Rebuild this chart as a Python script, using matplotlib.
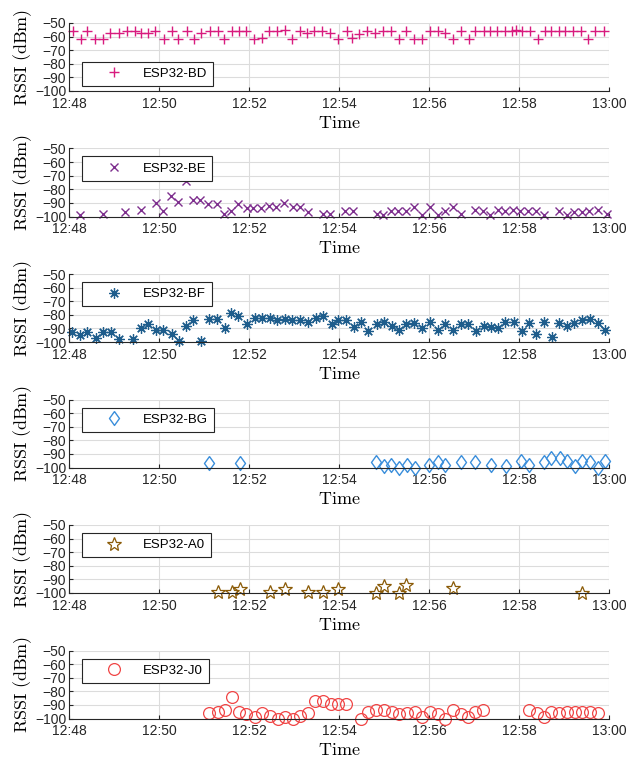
import datetime as dt
import matplotlib
matplotlib.use("Agg")
import matplotlib.pyplot as plt
import matplotlib.dates as mdates

plt.rcParams['font.family'] = ['Liberation Sans', 'DejaVu Sans']
plt.rcParams['mathtext.fontset'] = 'cm'

# -----------------------------
# Data (minutes after 12:48, RSSI in dBm)
# -----------------------------
bd_min = [0.08, 0.27, 0.40, 0.58, 0.75, 0.92, 1.10, 1.28, 1.47, 1.60, 1.75, 1.92, 2.12, 2.28,
          2.43, 2.62, 2.78, 2.93, 3.13, 3.30, 3.45, 3.62, 3.78, 3.93, 4.12, 4.28, 4.45, 4.63,
          4.80, 4.95, 5.13, 5.28, 5.45, 5.62, 5.80, 5.98, 6.17, 6.28, 6.45, 6.63, 6.80, 6.97,
          7.15, 7.33, 7.48, 7.67, 7.85, 8.03, 8.20, 8.35, 8.53, 8.72, 8.90, 9.03, 9.22, 9.35,
          9.52, 9.70, 9.85, 9.93, 10.07, 10.25, 10.42, 10.57, 10.70, 10.88, 11.02, 11.20, 11.38,
          11.53, 11.70, 11.88]
bd_rssi = [-56, -62, -56, -62, -62, -57, -57, -56, -56, -57, -57, -56, -62, -56, -62, -56, -62,
           -57, -56, -56, -62, -56, -56, -56, -62, -61, -56, -56, -55, -62, -56, -57, -56, -56,
           -57, -62, -56, -61, -58, -56, -57, -56, -56, -62, -56, -62, -62, -56, -56, -57, -62,
           -56, -62, -56, -56, -56, -56, -56, -56, -55, -56, -56, -62, -56, -56, -56, -56, -56,
           -56, -62, -56, -56]

be_min = [0.24, 0.75, 1.24, 1.60, 1.93, 2.10, 2.27, 2.43, 2.60, 2.76, 2.91, 3.09, 3.28, 3.45,
          3.60, 3.76, 3.95, 4.09, 4.27, 4.44, 4.61, 4.78, 4.97, 5.13, 5.31, 5.64, 5.80, 6.13,
          6.32, 6.84, 6.98, 7.16, 7.32, 7.48, 7.67, 7.84, 8.02, 8.19, 8.36, 8.54, 8.71, 9.02,
          9.20, 9.36, 9.54, 9.70, 9.87, 10.02, 10.19, 10.38, 10.56, 10.89, 11.06, 11.22, 11.39,
          11.56, 11.76, 11.95]
be_rssi = [-99, -98, -97, -95, -90, -96, -85, -89, -74, -88, -88, -91, -91, -98, -96, -91, -94,
           -94, -94, -92, -93, -90, -93, -93, -97, -98, -98, -96, -96, -98, -99, -96, -96, -96,
           -93, -99, -93, -99, -96, -93, -98, -95, -96, -99, -95, -96, -95, -96, -96, -96, -99,
           -96, -99, -97, -97, -96, -95, -98]

bf_min = [0.06, 0.24, 0.41, 0.59, 0.76, 0.93, 1.10, 1.43, 1.60, 1.76, 1.93, 2.10, 2.28, 2.44,
          2.61, 2.76, 2.93, 3.11, 3.28, 3.47, 3.60, 3.76, 3.95, 4.13, 4.30, 4.47, 4.63, 4.80,
          4.96, 5.13, 5.30, 5.48, 5.65, 5.84, 5.98, 6.15, 6.33, 6.49, 6.65, 6.84, 7.00, 7.17,
          7.33, 7.50, 7.67, 7.85, 8.02, 8.19, 8.36, 8.54, 8.71, 8.87, 9.04, 9.22, 9.38, 9.54,
          9.70, 9.89, 10.06, 10.22, 10.38, 10.56, 10.73, 10.89, 11.06, 11.23, 11.41, 11.58,
          11.75, 11.91]
bf_rssi = [-93, -95, -93, -97, -93, -93, -98, -98, -90, -87, -91, -91, -94, -99, -88, -84, -99,
           -83, -83, -90, -79, -81, -87, -82, -82, -82, -84, -83, -84, -84, -85, -82, -81, -87,
           -84, -84, -89, -85, -92, -87, -85, -88, -91, -87, -86, -90, -85, -91, -87, -91, -87,
           -87, -92, -88, -89, -90, -85, -85, -92, -86, -94, -85, -96, -86, -88, -86, -84, -83,
           -86, -91]

bg_min = [3.12, 3.80, 6.83, 6.99, 7.15, 7.34, 7.51, 7.69, 7.99, 8.19, 8.35, 8.70, 9.03, 9.38,
          9.71, 10.05, 10.23, 10.55, 10.72, 10.90, 11.07, 11.25, 11.41, 11.58, 11.75, 11.91]
bg_rssi = [-97, -97, -96, -99, -98, -100, -98, -100, -98, -96, -98, -96, -96, -98, -99, -95,
           -98, -96, -93, -93, -95, -99, -95, -96, -100, -95]

a0_min = [3.30, 3.62, 3.80, 4.46, 4.80, 5.32, 5.65, 5.98, 6.83, 6.99, 7.34, 7.49, 8.53, 11.41]
a0_rssi = [-99, -99, -97, -99, -97, -99, -99, -97, -100, -95, -100, -94, -96, -100]

j0_min = [3.12, 3.30, 3.46, 3.62, 3.78, 3.94, 4.14, 4.29, 4.47, 4.64, 4.80, 4.97, 5.14, 5.32,
          5.47, 5.65, 5.82, 5.98, 6.16, 6.48, 6.65, 6.83, 6.99, 7.17, 7.34, 7.51, 7.69, 7.85,
          8.02, 8.19, 8.35, 8.53, 8.70, 8.87, 9.03, 9.21, 10.23, 10.39, 10.55, 10.72, 10.89,
          11.07, 11.25, 11.41, 11.58, 11.75]
j0_rssi = [-96, -95, -94, -84, -95, -97, -99, -96, -98, -100, -99, -100, -98, -96, -87, -87,
           -89, -89, -89, -100, -95, -94, -94, -95, -97, -96, -95, -99, -95, -97, -100, -94, -97,
           -99, -95, -94, -94, -96, -99, -95, -96, -95, -95, -95, -95, -96]

names = ["ESP32-BD", "ESP32-BE", "ESP32-BF", "ESP32-BG", "ESP32-A0", "ESP32-J0"]
series = [(bd_min, bd_rssi), (be_min, be_rssi), (bf_min, bf_rssi),
          (bg_min, bg_rssi), (a0_min, a0_rssi), (j0_min, j0_rssi)]

# marker styles (MATLAB look)
diamond = [(0, 1), (0.72, 0), (0, -1), (-0.72, 0), (0, 1)]
styles = [
    dict(marker='+', color='#D81B7E', ms=7.5, mew=1.0),
    dict(marker='x', color='#7E2F8E', ms=5.5, mew=1.0),
    dict(marker=(8, 2, 0), color='#1E5D8C', ms=7.5, mew=0.9),
    dict(marker=diamond, color='#3A8EDB', ms=10, mew=1.0, mfc='none'),
    dict(marker='*', color='#8A5A06', ms=10, mew=0.9, mfc='none'),
    dict(marker='o', color='#F04545', ms=8.5, mew=0.9, mfc='none'),
]

t0 = dt.datetime(2023, 1, 1, 12, 48)
t_end = dt.datetime(2023, 1, 1, 13, 0)

fig = plt.figure(figsize=(6.4, 7.6), dpi=100)

W, H = 640.0, 760.0
left, width = 69 / W, 540 / W
for i in range(6):
    top_px = 23 + 125.5 * i
    ax = fig.add_axes([left, 1 - (top_px + 68) / H, width, 68 / H])
    mins, rssi = series[i]
    times = [t0 + dt.timedelta(minutes=m) for m in mins]
    st = styles[i]
    ax.plot(times, rssi, linestyle='none', marker=st['marker'], color=st['color'],
            markersize=st['ms'], markeredgewidth=st['mew'],
            markerfacecolor=st.get('mfc', st['color']), clip_on=False, label=names[i])

    ax.set_xlim(t0, t_end)
    ax.set_ylim(-100, -50)
    ax.set_yticks(range(-100, -49, 10))
    ax.xaxis.set_major_locator(mdates.MinuteLocator(byminute=range(0, 60, 2)))
    ax.xaxis.set_major_formatter(mdates.DateFormatter('%H:%M'))
    ax.tick_params(direction='in', length=3, width=0.8, labelsize=10, colors='#262626')
    ax.tick_params(axis='x', pad=4)
    ax.tick_params(axis='y', pad=2)
    ax.grid(True, color='#DCDCDC', linewidth=0.8)
    ax.set_axisbelow(True)
    for s in ['top', 'right']:
        ax.spines[s].set_visible(False)
    for s in ['left', 'bottom']:
        ax.spines[s].set_color('#262626')
        ax.spines[s].set_linewidth(0.8)

    ax.set_ylabel(r'$\mathrm{RSSI\ (dBm)}$', fontsize=13, labelpad=1)
    ax.set_xlabel(r'$\mathrm{Time}$', fontsize=13, labelpad=3)

    leg_kw = dict(fontsize=9.5, borderaxespad=0, borderpad=0.45, handlelength=3.9,
                  handletextpad=0.25, fancybox=False, framealpha=1, edgecolor='#262626')
    if i == 0:
        leg = ax.legend(loc='lower left', bbox_to_anchor=(13 / 540, 5 / 68), **leg_kw)
    else:
        leg = ax.legend(loc='upper left', bbox_to_anchor=(13 / 540, 1 - 8 / 68), **leg_kw)
    leg.get_frame().set_linewidth(0.8)

fig.savefig('out.png', dpi=100)
